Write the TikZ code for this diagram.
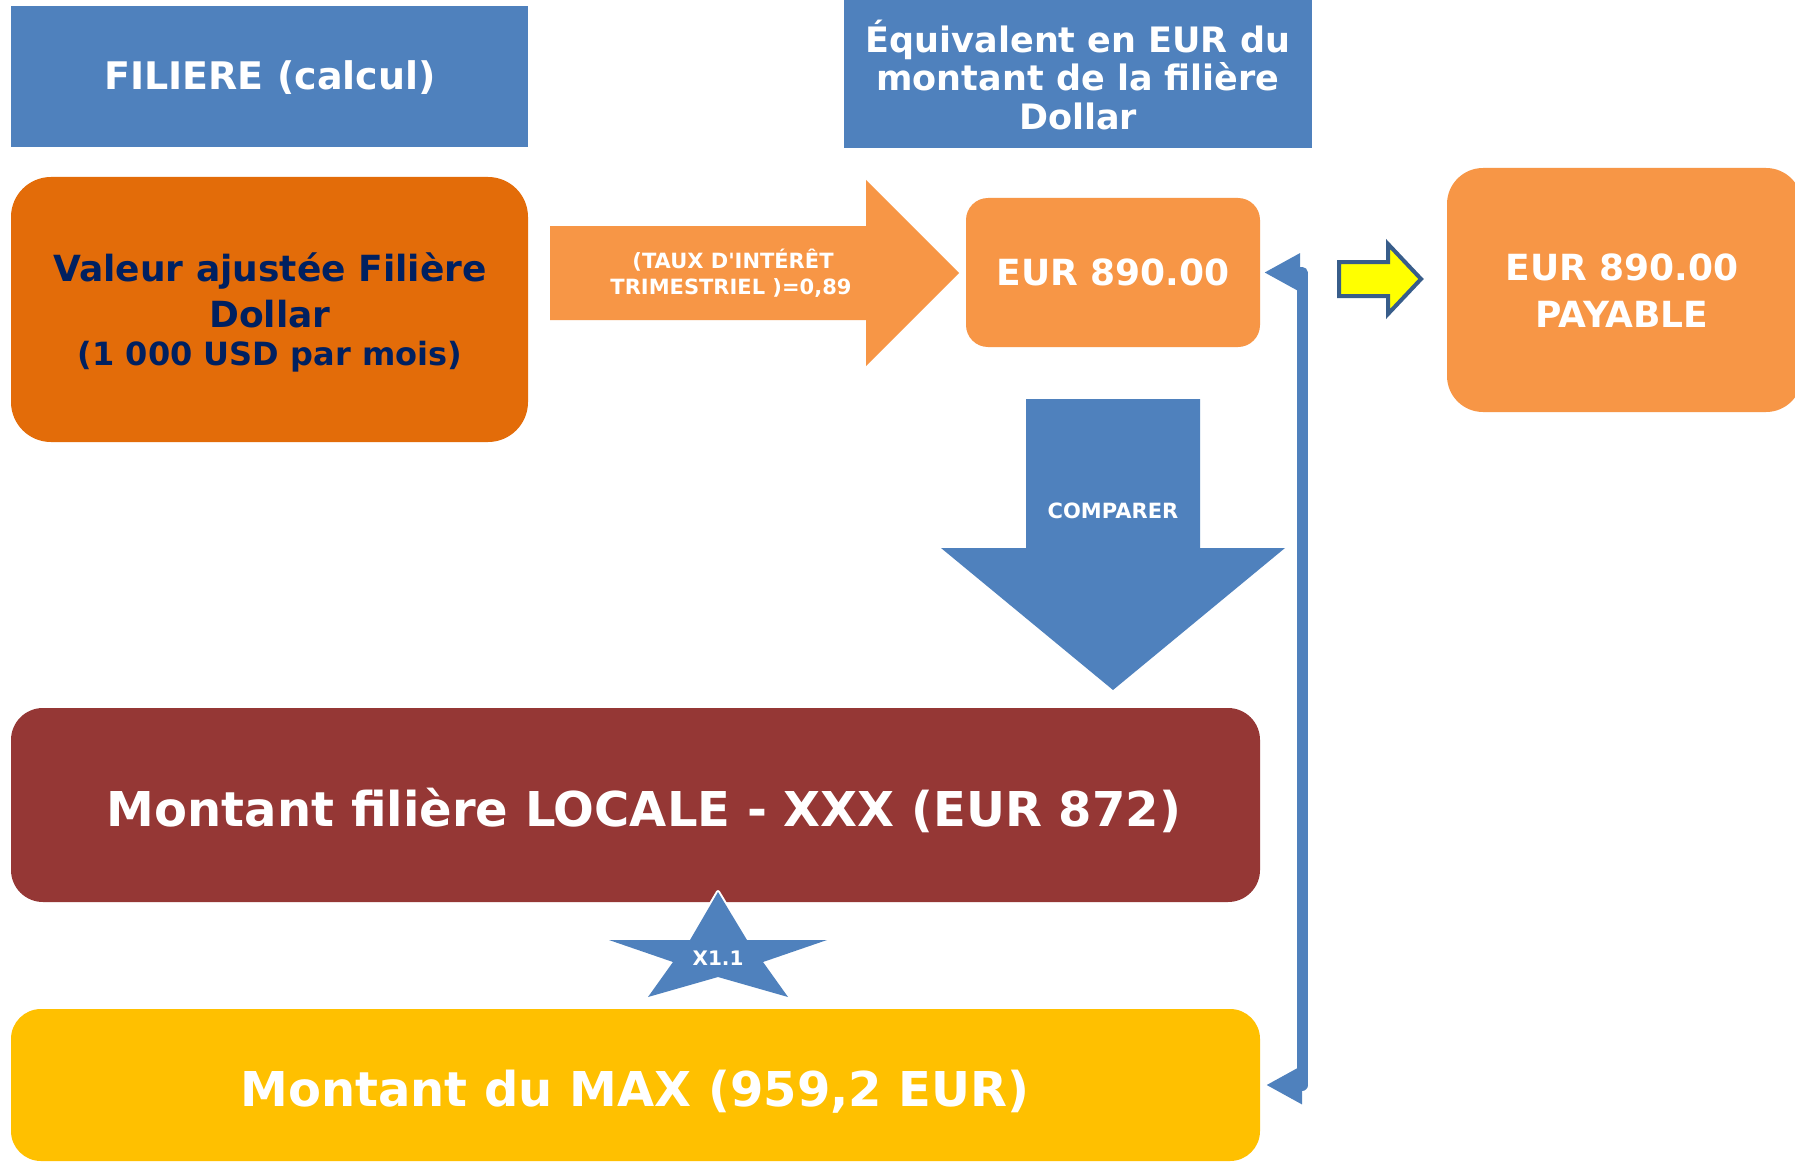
\documentclass[tikz,border=0pt]{standalone}
\usepackage{fontspec}
\setmainfont{DejaVu Sans}[Ligatures=TeXOff]
\usetikzlibrary{arrows.meta}
\definecolor{hblue}{HTML}{4F81BD}
\definecolor{dorange}{HTML}{E36C09}
\definecolor{lorange}{HTML}{F79646}
\definecolor{cbrown}{HTML}{953735}
\definecolor{cgold}{HTML}{FFC000}
\definecolor{cnavy}{HTML}{002060}
\definecolor{yborder}{HTML}{385D8A}
\definecolor{cyellow}{HTML}{FFFF00}
\begin{document}
\begin{tikzpicture}[x=1pt,y=-1pt,
  boxst/.style={inner sep=0pt, outer sep=0pt, anchor=north west},
  txt/.style={anchor=base, inner sep=0pt, text=white, font=\bfseries\fontsize{36}{36}\selectfont},
  bigtxt/.style={txt, font=\bfseries\fontsize{48}{48}\selectfont},
  smalltxt/.style={txt, font=\bfseries\fontsize{21}{21}\selectfont},
  conn/.style={hblue, line width=11pt, line join=round,
    {Triangle[length=36pt,width=36pt]}-{Triangle[length=36pt,width=36pt]}}
]
\useasboundingbox (0,0) rectangle (1795,1161);
\fill[white] (0,0) rectangle (1795,1161);

% header boxes
\node[boxst, fill=hblue, minimum width=517pt, minimum height=141pt] (hdrA) at (11,6) {};
\node[boxst, fill=hblue, minimum width=468pt, minimum height=148pt] (hdrB) at (844,0) {};
\node[txt, font=\bfseries\fontsize{38}{38}\selectfont] (hdrAt) at (270,90) {FILIERE (calcul)};
\node[txt, font=\bfseries\fontsize{35}{35}\selectfont] (hdrBt1) at (1078,53) {Équivalent en EUR du};
\node[txt, font=\bfseries\fontsize{35}{35}\selectfont] (hdrBt2) at (1078,91) {montant de la filière};
\node[txt, font=\bfseries\fontsize{35}{35}\selectfont] (hdrBt3) at (1078,130) {Dollar};

% Valeur box
\node[boxst, fill=dorange, rounded corners=40pt, minimum width=517pt, minimum height=265pt] (val) at (11,177) {};
\node[txt, text=cnavy] (valt1) at (270,281) {Valeur ajustée Filière};
\node[txt, text=cnavy] (valt2) at (270,327) {Dollar};
\node[txt, text=cnavy, font=\bfseries\fontsize{32}{32}\selectfont] (valt3) at (270,365) {(1 000 USD par mois)};

% orange arrow
\fill[lorange] (550,226) -- (866,226) -- (866,180) -- (959,273) -- (866,366) -- (866,320) -- (550,320) -- cycle;
\node[smalltxt] (taux1) at (733,268) {(TAUX D'INTÉRÊT};
\node[smalltxt] (taux2) at (731,294) {TRIMESTRIEL )=0,89};

% EUR box
\node[boxst, fill=lorange, rounded corners=22pt, minimum width=294pt, minimum height=149pt] (eur) at (966,198) {};
\node[txt] (eurt) at (1113,285) {EUR 890.00};

% yellow arrow
\filldraw[fill=cyellow, draw=yborder, line width=4pt, line join=miter]
  (1339,262) -- (1388,262) -- (1388,244) -- (1421,279) -- (1388,314) -- (1388,296) -- (1339,296) -- cycle;

% payable box
\node[boxst, fill=lorange, rounded corners=36pt, minimum width=355pt, minimum height=244pt] (pay) at (1447,168) {};
\node[txt] (payt1) at (1622,280) {EUR 890.00};
\node[txt] (payt2) at (1622,327) {PAYABLE};

% compare arrow
\fill[hblue] (1026,399) -- (1200,399) -- (1200,548) -- (1285,548) -- (1113,690) -- (941,548) -- (1026,548) -- cycle;
\node[txt, font=\bfseries\fontsize{21}{21}\selectfont] (cmp) at (1113,518) {COMPARER};

% locale box
\node[boxst, fill=cbrown, rounded corners=32pt, minimum width=1249pt, minimum height=194pt] (loc) at (11,708) {};
\node[bigtxt] (loct) at (644,826) {Montant filière LOCALE - XXX (EUR 872)};

% max box
\node[boxst, fill=cgold, rounded corners=30pt, minimum width=1249pt, minimum height=152pt] (maxb) at (11,1009) {};
\node[bigtxt] (maxt) at (635,1106) {Montant du MAX (959,2 EUR)};

% star (white halo behind, blue fill on top)
\draw[white, line width=4pt, line join=round]
  (718,892) -- (747,940) -- (827,940) -- (763,962) -- (788,997) -- (718,977) -- (648,997) -- (673,962) -- (609,940) -- (690,940) -- cycle;
\fill[hblue]
  (718,892) -- (747,940) -- (827,940) -- (763,962) -- (788,997) -- (718,977) -- (648,997) -- (673,962) -- (609,940) -- (690,940) -- cycle;
\node[smalltxt, font=\bfseries\fontsize{20}{20}\selectfont] (star) at (718,965) {X1.1};

% connector
\draw[conn] ([xshift=4pt]eur.east) -- ++(38,0) |- ([xshift=6pt]maxb.east);
\end{tikzpicture}
\end{document}
